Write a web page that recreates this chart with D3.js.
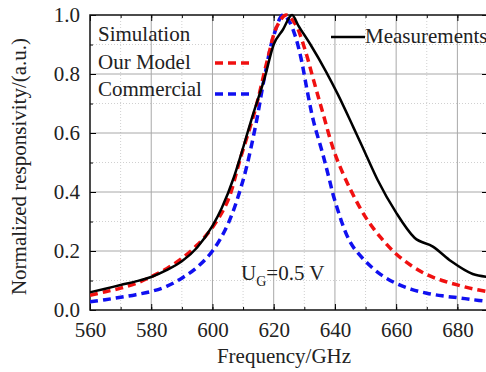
<!DOCTYPE html>
<html>
<head>
<meta charset="utf-8">
<script src="https://cdn.jsdelivr.net/npm/d3@7"></script>
<style>
  body { margin: 0; background: #fff; }
  svg { display: block; font-family: "Liberation Serif", "Times New Roman", serif; }
</style>
</head>
<body>
<div id="chart"></div>
<script>
// data
const measFreq = [560, 565, 570, 575, 580, 585, 590, 595, 600, 603, 607, 610, 613, 617, 620, 623, 626, 628, 632, 637, 641, 646, 650, 654, 660, 666, 672, 678, 685, 690];
const measVal  = [0.06, 0.072, 0.085, 0.097, 0.112, 0.135, 0.165, 0.212, 0.285, 0.345, 0.45, 0.55, 0.655, 0.785, 0.9, 0.95, 1.0, 0.965, 0.9, 0.81, 0.73, 0.62, 0.53, 0.44, 0.33, 0.245, 0.215, 0.165, 0.122, 0.112];

const modelFreq = [560, 565, 570, 575, 580, 585, 590, 595, 600, 605, 609, 614, 618, 621, 624, 627, 630, 633, 636, 640, 645, 650, 655, 660, 665, 670, 675, 680, 685, 690];
const modelVal  = [0.05, 0.062, 0.074, 0.09, 0.113, 0.14, 0.175, 0.22, 0.28, 0.37, 0.51, 0.68, 0.85, 0.96, 1.0, 0.97, 0.89, 0.78, 0.67, 0.53, 0.41, 0.315, 0.245, 0.19, 0.15, 0.12, 0.1, 0.085, 0.072, 0.062];

const commFreq = [560, 565, 570, 575, 580, 585, 590, 595, 600, 605, 610, 614, 617, 620, 623, 625, 627, 629, 631, 633, 636, 638, 640, 645, 650, 655, 660, 665, 670, 675, 680, 685, 690];
const commVal  = [0.028, 0.035, 0.043, 0.052, 0.063, 0.08, 0.108, 0.145, 0.2, 0.29, 0.44, 0.62, 0.79, 0.93, 1.0, 0.98, 0.93, 0.85, 0.74, 0.64, 0.53, 0.45, 0.37, 0.23, 0.165, 0.12, 0.09, 0.07, 0.057, 0.048, 0.042, 0.035, 0.029];

const xTicks = [560, 580, 600, 620, 640, 660, 680];
const yTicks = [0.0, 0.2, 0.4, 0.6, 0.8, 1.0];

// layout
const W = 486, H = 372;
const plot = { left: 90, top: 15, right: 488, bottom: 310 };

const svg = d3.select("#chart").append("svg")
    .attr("width", W)
    .attr("height", H);

const x = d3.scaleLinear().domain([560, 690]).range([plot.left, plot.right]);
const y = d3.scaleLinear().domain([0, 1]).range([plot.bottom, plot.top]);

// minor grid (dotted)
const xMinor = d3.range(570, 690, 20);
const yMinor = d3.range(0.1, 1.0, 0.2);
svg.append("g").selectAll("line").data(xMinor).join("line")
    .attr("x1", d => x(d)).attr("x2", d => x(d))
    .attr("y1", plot.top).attr("y2", plot.bottom)
    .attr("stroke", "#d0d0d0").attr("stroke-width", 1).attr("stroke-dasharray", "1,2");
svg.append("g").selectAll("line").data(yMinor).join("line")
    .attr("x1", plot.left).attr("x2", plot.right)
    .attr("y1", d => y(d)).attr("y2", d => y(d))
    .attr("stroke", "#d0d0d0").attr("stroke-width", 1).attr("stroke-dasharray", "1,2");

// major grid
svg.append("g").selectAll("line").data(xTicks.slice(1)).join("line")
    .attr("x1", d => x(d)).attr("x2", d => x(d))
    .attr("y1", plot.top).attr("y2", plot.bottom)
    .attr("stroke", "#a8a8a8").attr("stroke-width", 1);
svg.append("g").selectAll("line").data(yTicks.slice(1, -1)).join("line")
    .attr("x1", plot.left).attr("x2", plot.right)
    .attr("y1", d => y(d)).attr("y2", d => y(d))
    .attr("stroke", "#a8a8a8").attr("stroke-width", 1);

// axes with inward ticks
const allX = d3.range(560, 691, 10);
const allY = d3.range(0, 1.01, 0.1);

svg.append("g")
    .attr("transform", `translate(0,${plot.bottom})`)
    .call(d3.axisBottom(x).tickValues(allX).tickSize(-3).tickFormat(""))
    .call(g => g.select(".domain").remove());
svg.append("g")
    .attr("transform", `translate(0,${plot.bottom})`)
    .call(d3.axisBottom(x).tickValues(xTicks).tickSize(-6).tickPadding(12).tickFormat(d3.format("d")))
    .call(g => g.select(".domain").remove())
    .call(g => g.selectAll("text").attr("font-size", 21).attr("fill", "#222").attr("font-family", "Liberation Serif"));

svg.append("g")
    .attr("transform", `translate(${plot.left},0)`)
    .call(d3.axisLeft(y).tickValues(allY).tickSize(-3).tickFormat(""))
    .call(g => g.select(".domain").remove());
svg.append("g")
    .attr("transform", `translate(${plot.left},0)`)
    .call(d3.axisLeft(y).tickValues(yTicks).tickSize(-6).tickPadding(10).tickFormat(d3.format(".1f")))
    .call(g => g.select(".domain").remove())
    .call(g => g.selectAll("text").attr("font-size", 21).attr("fill", "#222").attr("font-family", "Liberation Serif"));

// top / right ticks
svg.append("g")
    .attr("transform", `translate(0,${plot.top})`)
    .call(d3.axisTop(x).tickValues(allX).tickSize(-3).tickFormat(""))
    .call(g => g.select(".domain").remove());
svg.append("g")
    .attr("transform", `translate(0,${plot.top})`)
    .call(d3.axisTop(x).tickValues(xTicks).tickSize(-6).tickFormat(""))
    .call(g => g.select(".domain").remove());
svg.append("g")
    .attr("transform", `translate(${plot.right},0)`)
    .call(d3.axisRight(y).tickValues(yTicks).tickSize(-6).tickFormat(""))
    .call(g => g.select(".domain").remove());

// frame
svg.append("rect")
    .attr("x", plot.left).attr("y", plot.top)
    .attr("width", plot.right - plot.left).attr("height", plot.bottom - plot.top)
    .attr("fill", "none").attr("stroke", "#111").attr("stroke-width", 1.5);

// curves
const smooth = d3.line()
    .x(d => x(d[0])).y(d => y(d[1]))
    .curve(d3.curveCatmullRom.alpha(0.5));
const measLine = d3.line()
    .x(d => x(d[0])).y(d => y(d[1]))
    .curve(d3.curveMonotoneX);

svg.append("clipPath").attr("id", "clip")
    .append("rect").attr("x", plot.left).attr("y", plot.top - 2)
    .attr("width", plot.right - plot.left).attr("height", plot.bottom - plot.top + 2);

const curves = svg.append("g").attr("clip-path", "url(#clip)");

curves.append("path")
    .datum(d3.zip(commFreq, commVal))
    .attr("d", smooth)
    .attr("fill", "none").attr("stroke", "#1010f0").attr("stroke-width", 3.5)
    .attr("stroke-dasharray", "8,5");

curves.append("path")
    .datum(d3.zip(modelFreq, modelVal))
    .attr("d", smooth)
    .attr("fill", "none").attr("stroke", "#f01010").attr("stroke-width", 3.5)
    .attr("stroke-dasharray", "8,5");

curves.append("path")
    .datum(d3.zip(measFreq, measVal))
    .attr("d", measLine)
    .attr("fill", "none").attr("stroke", "#000").attr("stroke-width", 2.5);

// legend
const legendFont = 21;
svg.append("text").attr("x", 98).attr("y", 41).attr("font-size", legendFont).attr("fill", "#222").text("Simulation");
svg.append("text").attr("x", 98).attr("y", 69).attr("font-size", legendFont).attr("fill", "#222").text("Our Model");
svg.append("text").attr("x", 98).attr("y", 96).attr("font-size", legendFont).attr("fill", "#222").text("Commercial");

svg.append("line").attr("x1", 215).attr("x2", 252).attr("y1", 63).attr("y2", 63)
    .attr("stroke", "#f01010").attr("stroke-width", 3.5).attr("stroke-dasharray", "8,5");
svg.append("line").attr("x1", 215).attr("x2", 252).attr("y1", 94).attr("y2", 94)
    .attr("stroke", "#1010f0").attr("stroke-width", 3.5).attr("stroke-dasharray", "8,5");

svg.append("line").attr("x1", 331).attr("x2", 365).attr("y1", 37).attr("y2", 37)
    .attr("stroke", "#000").attr("stroke-width", 2.5);
svg.append("text").attr("x", 365).attr("y", 43).attr("font-size", legendFont).attr("fill", "#222").text("Measurements");

// annotation U_G = 0.5 V
const ug = svg.append("text").attr("x", 241).attr("y", 280).attr("font-size", legendFont).attr("fill", "#222");
ug.append("tspan").text("U");
ug.append("tspan").attr("font-size", 14).attr("dy", 6).text("G");
ug.append("tspan").attr("dy", -6).text("=0.5 V");

// axis titles
svg.append("text")
    .attr("x", (plot.left + plot.right) / 2 - 5).attr("y", 363)
    .attr("text-anchor", "middle").attr("font-size", legendFont).attr("fill", "#222")
    .text("Frequency/GHz");

svg.append("text")
    .attr("transform", `translate(26,${(plot.top + plot.bottom) / 2 + 4}) rotate(-90)`)
    .attr("text-anchor", "middle").attr("font-size", legendFont).attr("fill", "#222")
    .text("Normalized responsivity/(a.u.)");
</script>
</body>
</html>
